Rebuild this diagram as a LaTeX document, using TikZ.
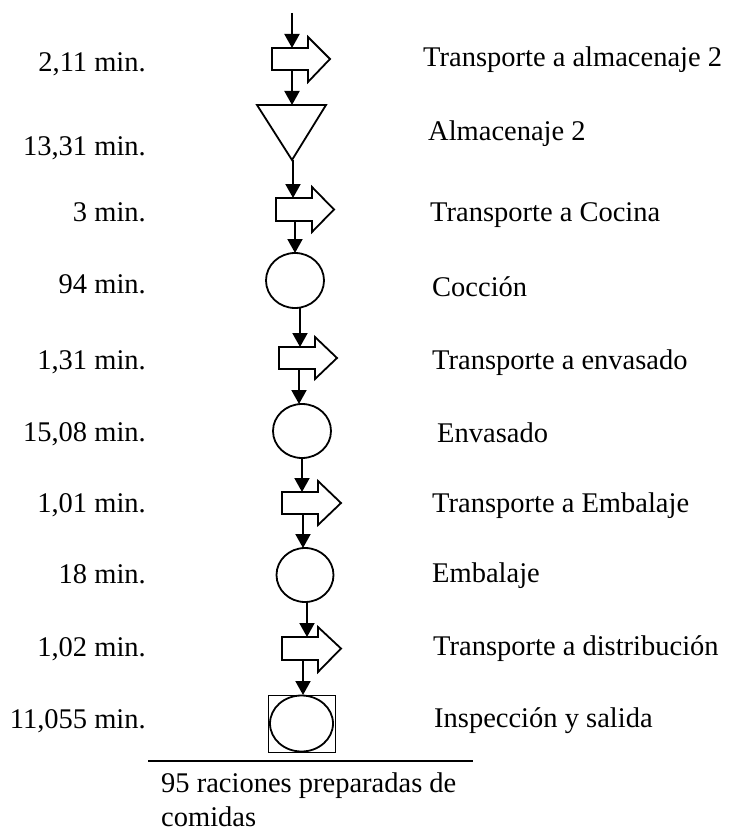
\documentclass[tikz,border=0pt]{standalone}
\usepackage{fontspec}
\setmainfont{Liberation Serif}
\usetikzlibrary{arrows.meta,shapes.geometric}
\tikzset{
  flow/.style={line width=2pt,-{Triangle[width=15pt,length=14pt]}},
  sym/.style={line width=1.8pt,fill=white},
  lbl/.style={inner sep=0pt,font=\fontsize{28.5}{33}\selectfont},
  lab/.style={lbl,anchor=base east},
  desc/.style={lbl,anchor=base west},
}
% block arrow: #1 left x, #2 top y, #3 rect right x, #4 bottom y, #5 tip x, #6 head top y, #7 head bottom y
\newcommand{\blockarrow}[7]{%
  \draw[sym] (#1,#2) -- (#3,#2) -- (#3,#6) -- (#5,{(#2+#4)/2}) -- (#3,#7) -- (#3,#4) -- (#1,#4) -- cycle;}
\begin{document}
\begin{tikzpicture}[x=1pt,y=-1pt]
\useasboundingbox (0,0) rectangle (730,832);

% symbols
\blockarrow{272}{48}{308}{70}{330}{37}{82}
\draw[sym] (257,105) -- (326,105) -- (292,160) -- cycle;
\blockarrow{276}{198}{312}{221}{334}{187}{232}
\node[sym,draw,ellipse,minimum width=58pt,minimum height=55pt,inner sep=0pt] (e1) at (295,280.5) {};
\blockarrow{279}{347}{315}{369}{337}{337}{379}
\node[sym,draw,ellipse,minimum width=58pt,minimum height=54pt,inner sep=0pt] (e2) at (302,431) {};
\blockarrow{282}{492}{318}{514}{341}{481}{525}
\node[sym,draw,ellipse,minimum width=57pt,minimum height=54pt,inner sep=0pt] (e3) at (305,575) {};
\blockarrow{282}{637}{318}{660}{341}{627}{672}
\node[draw,line width=1pt,minimum width=67pt,minimum height=57pt,inner sep=0pt] (sq) at (301.5,723.5) {};
\node[sym,draw,ellipse,minimum width=63pt,minimum height=56pt,inner sep=0pt] (e4) at (301.5,723.5) {};

% connector coordinates
\coordinate (s0) at (292,13);   \coordinate (t1) at (292,48);
\coordinate (s1) at (292,70);   \coordinate (t2) at (292,105);
\coordinate (s2) at (293,160);  \coordinate (t3) at (293,198);
\coordinate (s3) at (295,221);  \coordinate (t4) at (295,253);
\coordinate (s4) at (300,308);  \coordinate (t5) at (300,347);
\coordinate (s5) at (299,369);  \coordinate (t6) at (299,404);
\coordinate (s6) at (302,458);  \coordinate (t7) at (302,492);
\coordinate (s7) at (303,514);  \coordinate (t8) at (303,548);
\coordinate (s8) at (307,602);  \coordinate (t9) at (307,637);
\coordinate (s9) at (303,660);  \coordinate (t10) at (303,695);
\foreach \i/\j in {s0/t1,s1/t2,s2/t3,s3/t4,s4/t5,s5/t6,s6/t7,s7/t8,s8/t9,s9/t10}
  \draw[flow] (\i) -- (\j);

% left labels
\node[lab] (l1) at (146,72) {2,11 min.};
\node[lab] (l2) at (146,155) {13,31 min.};
\node[lab] (l3) at (146,221) {3 min.};
\node[lab] (l4) at (146,293) {94 min.};
\node[lab] (l5) at (146,369) {1,31 min.};
\node[lab] (l6) at (146,441) {15,08 min.};
\node[lab] (l7) at (146,512) {1,01 min.};
\node[lab] (l8) at (146,583) {18 min.};
\node[lab] (l9) at (146,656) {1,02 min.};
\node[lab] (l10) at (146,728) {11,055 min.};

% right descriptions
\node[desc] (d1) at (423,67) {Transporte a almacenaje 2};
\node[desc] (d2) at (428,140) {Almacenaje 2};
\node[desc] (d3) at (430,221) {Transporte a Cocina};
\node[desc] (d4) at (432,296) {Cocción};
\node[desc] (d5) at (432,369) {Transporte a envasado};
\node[desc] (d6) at (437,442) {Envasado};
\node[desc] (d7) at (432,512) {Transporte a Embalaje};
\node[desc] (d8) at (432,582) {Embalaje};
\node[desc] (d9) at (433,655) {Transporte a distribución};
\node[desc] (d10) at (434,727) {Inspección y salida};

% bottom
\coordinate (b1) at (148,761); \coordinate (b2) at (473,761);
\draw[line width=2pt] (b1) -- (b2);
\node[desc] (f1) at (161,792) {95 raciones preparadas de};
\node[desc] (f2) at (161,826) {comidas};
\end{tikzpicture}
\end{document}
